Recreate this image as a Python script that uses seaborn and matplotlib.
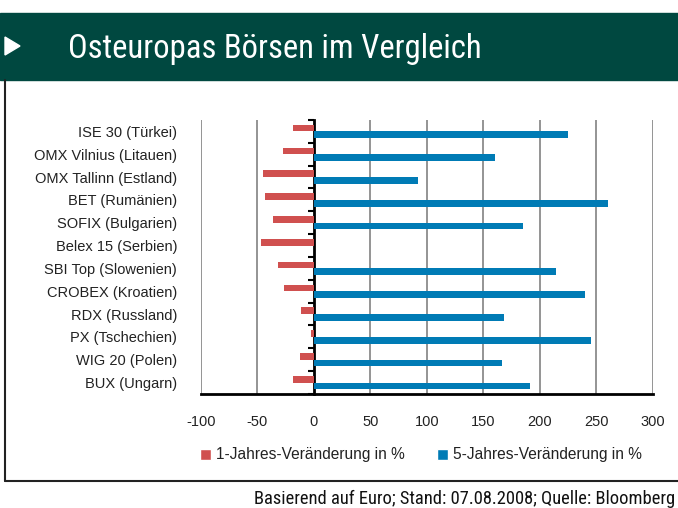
import numpy as np
import pandas as pd
import matplotlib
import matplotlib.pyplot as plt
import seaborn as sns
from matplotlib import font_manager
from matplotlib.patches import Rectangle, Polygon, Patch
from matplotlib.lines import Line2D

matplotlib.use('Agg')

# data
indices = ["ISE 30 (Türkei)", "OMX Vilnius (Litauen)", "OMX Tallinn (Estland)",
           "BET (Rumänien)", "SOFIX (Bulgarien)", "Belex 15 (Serbien)",
           "SBI Top (Slowenien)", "CROBEX (Kroatien)", "RDX (Russland)",
           "PX (Tschechien)", "WIG 20 (Polen)", "BUX (Ungarn)"]
change_1y = [-18, -27, -45, -43, -36, -47, -31.5, -26, -11, -2, -12, -18]
change_5y = [225, 160, 92, 260, 185, np.nan, 214, 240, 168, 245, 167, 191]
series = ["1-Jahres-Veränderung in %", "5-Jahres-Veränderung in %"]
x_ticks = [-100, -50, 0, 50, 100, 150, 200, 250, 300]

RED = '#d0504f'
BLUE = '#007bb5'
GREEN = '#004840'

sns.set_style("white")
names = {f.name for f in font_manager.fontManager.ttflist}
narrow = next((n for n in ['Liberation Sans Narrow', 'Roboto Condensed',
                           'Open Sans Condensed'] if n in names), 'Liberation Sans')
plt.rcParams['font.family'] = ['Liberation Sans', 'DejaVu Sans']

df = pd.DataFrame({'Index': indices, series[0]: change_1y, series[1]: change_5y})
df = df.melt(id_vars='Index', var_name='Serie', value_name='Wert').dropna()

W, H = 678, 508
fig = plt.figure(figsize=(W / 100, H / 100), dpi=100)

# header band with arrow
fig.patches.append(Rectangle((0, 1 - 80 / H), 1, 67 / H, transform=fig.transFigure,
                             color=GREEN, zorder=0))
fig.patches.append(Polygon([(5 / W, 1 - 37 / H), (20 / W, 1 - 46 / H), (5 / W, 1 - 55 / H)],
                           closed=True, transform=fig.transFigure, color='white', zorder=1))
fig.text(68 / W, 1 - 49 / H, "Osteuropas Börsen im Vergleich", color='white',
         fontsize=23.5, family=[narrow, 'DejaVu Sans'], va='center', ha='left')

# frame lines
fig.lines.append(Line2D([5 / W, 5 / W], [1 - 80 / H, 1 - 481 / H], transform=fig.transFigure,
                        color='#222222', lw=1.5))
fig.lines.append(Line2D([5 / W, 1], [1 - 481 / H, 1 - 481 / H], transform=fig.transFigure,
                        color='#222222', lw=1.5))
fig.text(675 / W, 1 - 499 / H, "Basierend auf Euro; Stand: 07.08.2008; Quelle: Bloomberg",
         fontsize=13.3, family=[narrow, 'DejaVu Sans'], va='center', ha='right', color='#111111')

ax = fig.add_axes([200.7 / W, 1 - 394 / H, 452 / W, 274 / H])
sns.barplot(data=df, y='Index', x='Wert', hue='Serie', order=indices, hue_order=series,
            palette=[RED, BLUE], saturation=1, width=0.58, orient='h', linewidth=0, ax=ax,
            legend=False)

ax.set_xlim(-100, 300)
ax.set_ylim(len(indices) - 0.5, -0.5)
ax.set_xticks(x_ticks)
ax.set_xticklabels([str(t) for t in x_ticks])
ax.set_xlabel('')
ax.set_ylabel('')
for t in x_ticks:
    if t != 0:
        ax.axvline(t, color='#777777', lw=1.1, zorder=0)

for s in ['top', 'right', 'left']:
    ax.spines[s].set_visible(False)
ax.spines['bottom'].set_color('black')
ax.spines['bottom'].set_linewidth(2)
ax.tick_params(axis='x', direction='out', length=4, width=1.5, color='black',
               pad=11, labelsize=10.5, labelcolor='#222222')
ax.tick_params(axis='y', length=0, pad=17, labelsize=10.5, labelcolor='#222222')

# zero axis with category boundary ticks
zero_ax = ax.secondary_yaxis(0.25)
zero_ax.set_yticks(np.arange(-0.5, len(indices), 1.0))
zero_ax.set_yticklabels([])
zero_ax.spines['left'].set_linewidth(2)
zero_ax.spines['left'].set_color('black')
zero_ax.tick_params(axis='y', direction='out', length=4, width=1.5, color='black')

handles = [Patch(facecolor=RED, label=series[0]), Patch(facecolor=BLUE, label=series[1])]
fig.legend(handles=handles, loc='center', bbox_to_anchor=(421 / W, 1 - 455 / H), ncol=2,
           frameon=False, fontsize=11.2, handlelength=0.7, handleheight=0.7,
           handletextpad=0.3, columnspacing=2.1, labelcolor='#222222')

fig.savefig('out.png', dpi=100)
